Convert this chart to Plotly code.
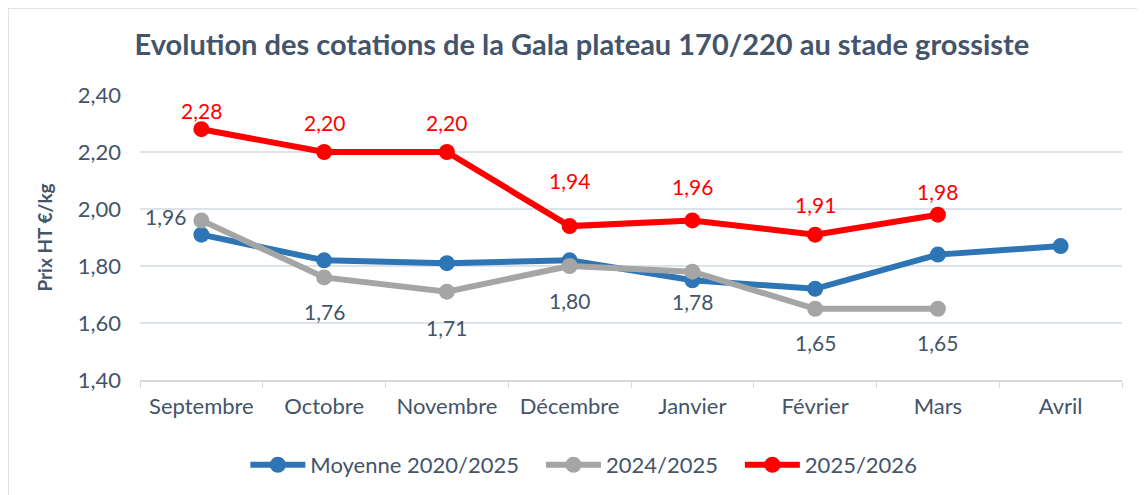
import plotly.graph_objects as go

mois = ["Septembre", "Octobre", "Novembre", "Décembre", "Janvier", "Février", "Mars", "Avril"]
moyenne_2020_2025 = [1.91, 1.82, 1.81, 1.82, 1.75, 1.72, 1.84, 1.87]
saison_2024_2025 = [1.96, 1.76, 1.71, 1.80, 1.78, 1.65, 1.65, None]
saison_2025_2026 = [2.28, 2.20, 2.20, 1.94, 1.96, 1.91, 1.98, None]
y_ticks = [1.40, 1.60, 1.80, 2.00, 2.20, 2.40]

# label offsets (pixels)
gray_xshift = [-36, 0, 0, 0, 0, 0, 0, 0]
gray_yshift = [4, -34, -36, -34, -30, -34, -34, 0]
red_yshift = [19, 30, 30, 46, 34, 30, 23, 0]

BLUE = "#2E75B6"
GRAY = "#A5A5A5"
RED = "#FF0000"
TXT = "#44546A"
FONT = "Lato"
PAD = "\u00a0\u00a0\u00a0"

def fr(v):
    return f"{v:.2f}".replace(".", ",")

fig = go.Figure()
fig.add_trace(go.Scatter(x=mois, y=moyenne_2020_2025, name="Moyenne 2020/2025" + PAD,
                         mode="lines+markers", line=dict(color=BLUE, width=6),
                         marker=dict(size=16, color=BLUE)))
fig.add_trace(go.Scatter(x=mois, y=saison_2024_2025, name="2024/2025" + PAD,
                         mode="lines+markers", line=dict(color=GRAY, width=6),
                         marker=dict(size=16, color=GRAY)))
fig.add_trace(go.Scatter(x=mois, y=saison_2025_2026, name="2025/2026",
                         mode="lines+markers", line=dict(color=RED, width=6),
                         marker=dict(size=16, color=RED)))

for i, (m, v) in enumerate(zip(mois, saison_2024_2025)):
    if v is None:
        continue
    fig.add_annotation(x=m, y=v, text=fr(v), showarrow=False,
                       xshift=gray_xshift[i], yshift=gray_yshift[i],
                       font=dict(family=FONT, size=21, color=TXT))
for i, (m, v) in enumerate(zip(mois, saison_2025_2026)):
    if v is None:
        continue
    fig.add_annotation(x=m, y=v, text=fr(v), showarrow=False,
                       yshift=red_yshift[i],
                       font=dict(family=FONT, size=21, color=RED))

# chart border
fig.add_shape(type="rect", xref="paper", yref="paper",
              x0=-0.1344, x1=1.06, y0=-0.5, y1=1.305,
              line=dict(color="#D9D9D9", width=1.5), layer="below")

fig.update_layout(
    width=1145, height=495,
    margin=dict(l=132, r=31, t=87, b=123, autoexpand=False),
    paper_bgcolor="white", plot_bgcolor="white",
    title=dict(text="<b>Evolution des cotations de la Gala plateau 170/220 au stade grossiste</b>",
               x=0.45, xanchor="center", xref="paper", y=0.925, yanchor="middle",
               font=dict(family=FONT, size=29, color=TXT)),
    font=dict(family=FONT, size=22, color=TXT),
    showlegend=True,
    legend=dict(orientation="h", x=0.452, xanchor="center", y=-0.298, yanchor="middle",
                font=dict(family=FONT, size=22, color=TXT), itemwidth=55,
                traceorder="normal"),
)
fig.update_xaxes(type="category", showgrid=False, showline=True, linecolor="#D9D9D9",
                 linewidth=1.5, ticks="outside", tickson="boundaries", ticklen=6,
                 tickcolor="#D9D9D9", tickfont=dict(family=FONT, size=22, color=TXT),
                 ticklabelstandoff=6, range=[-0.5, 7.5])
fig.update_yaxes(range=[1.40, 2.40], tickvals=y_ticks,
                 ticktext=[fr(t) for t in y_ticks], showgrid=True,
                 gridcolor="#DDE3EA", gridwidth=1.5, zeroline=False, showline=False,
                 ticks="", tickfont=dict(family=FONT, size=22, color=TXT),
                 ticklabelstandoff=18,
                 title=dict(text="<b>Prix HT €/kg</b>", font=dict(family=FONT, size=19, color=TXT),
                            standoff=20))
fig.write_html("out.html")
